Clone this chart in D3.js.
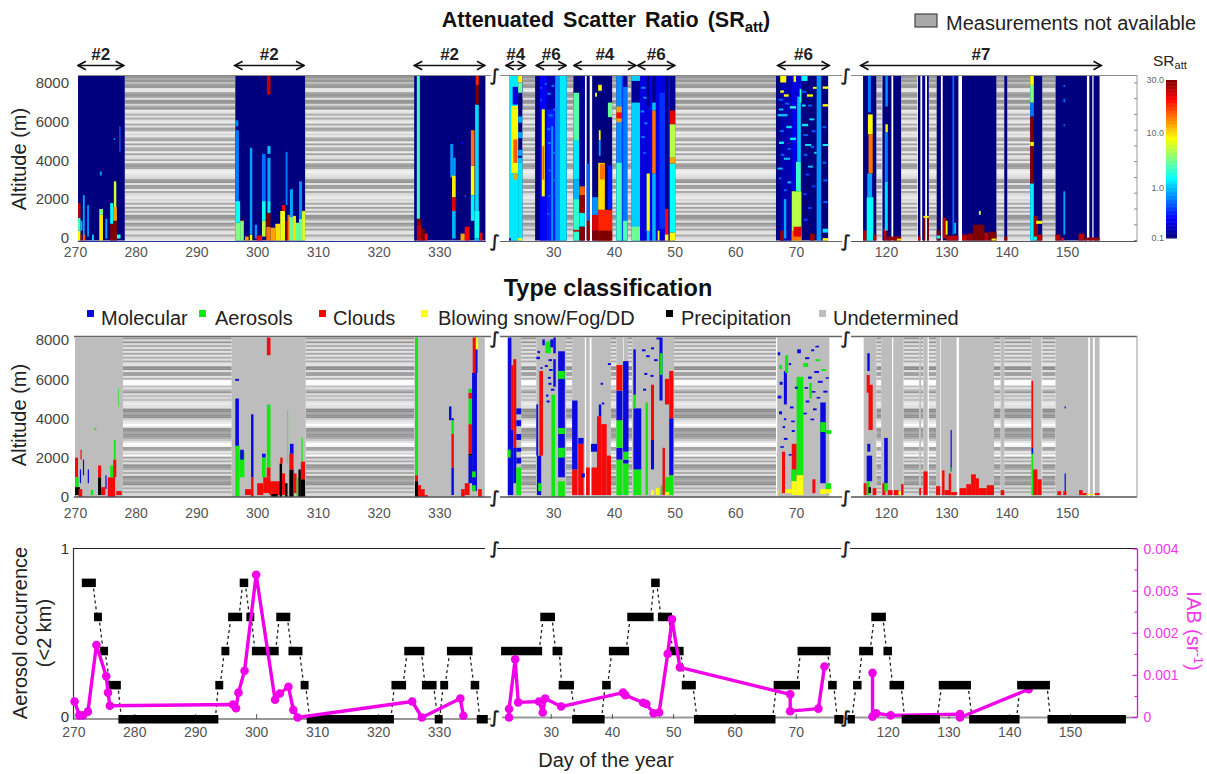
<!DOCTYPE html>
<html>
<head>
<meta charset="utf-8">
<script src="https://cdn.jsdelivr.net/npm/d3@7"></script>
<style>
  body { margin: 0; background: #fff; }
  text { font-family: "Liberation Sans", Arial, sans-serif; }
  .soft { filter: blur(0.3px); }
</style>
</head>
<body>
<div id="chart"></div>
<script>
const [width, height] = [1207, 774];

// ---- data: day ranges are [from, to], altitudes in metres, SR is unitless
const tickDaysA = [270, 280, 290, 300, 310, 320, 330];
const tickDaysB = [30, 40, 50, 60, 70];
const tickDaysC = [120, 130, 140, 150];
const altTicks = [0, 2000, 4000, 6000, 8000];
const srBarTicks = [0.1, 1, 10, 30];
const iabTicks = [0, 0.001, 0.002, 0.003, 0.004];
const iabMinor = [0.0005, 0.0015, 0.0025, 0.0035];

const campaigns = [
  ["a", 270.5, 278, "#2"], ["a", 296.3, 307.7, "#2"], ["a", 325.9, 337.5, "#2"],
  ["b", 22.2, 25.4, "#4"], ["b", 27.2, 32.1, "#6"], ["b", 33.4, 43.6, "#4"], ["b", 43.9, 50, "#6"], ["b", 67, 75.5, "#6"],
  ["c", 115.8, 155.7, "#7"]
];

const typeNames = ["Molecular", "Aerosols", "Clouds", "Blowing snow/Fog/DD", "Precipitation", "Undetermined"];
const typeCodes = ["M", "A", "C", "S", "P", "U"];
const typeColors = ["#0a0ae0", "#10e810", "#f50a0a", "#ffff10", "#000000", "#bdbdbd"];

// gray level of each altitude row of the "not available" hatching, top to bottom
const naRowsSR = [150,170,150,190,160,150,225,235,170,150,160,225,150,150,215,170,150,235,225,175,225,170,225,235,170,225,160,170,235,215,230,170,160,235,160,225,170,165,235,160,225,215,170,235,160,150,165,230,240,230,225,215,160,150,225,160,160,235,170,215,225,235,215,225,170,235,160,225,170,230,150,150,175,225,150,170,215,160,225,225,170,215,225];
const naRowsType = [150,215,150,215,170,225,170,225,170,230,170,225,170,225,225,140,140,225,160,160,225,175,250,255,250,190,225,180,150,215,190,215,190,225,235,225,225,140,140,170,145,145,205,225,235,255,235,150,150,170,150,150,170,200,230,255,245,160,170,230,215,255,160,215,170,225,145,150,170,215,170,225,145,160,175,150,145,215,170,215,170,215,215];

// measured periods and gaps, SR panel
const srMeasuredA = [[270.5,278.2],[296.4,307.9],[325.9,337.6]];
const srGapsA = [[278.2,296.4],[307.9,325.9]];
const srMeasuredB = [[22.7,24.9],[27,32.2],[33.3,35.2],[35.5,36],[36.4,39.7],[40.4,42.2],[42.9,50.1],[66.7,75.3]];
const srGapsB = [[24.9,27],[32.2,33.3],[39.7,40.4],[42.2,42.9],[50.1,66.7]];
const srMeasuredC = [[116.2,118.4],[119.4,120.9],[121.2,122.5],[125.3,125.7],[126,126.5],[126.8,127.1],[128.4,129.1],[129.4,132],[132.6,138.3],[139.6,140.1],[143.9,145.9],[148.1,153.3],[153.7,154.2],[154.4,155.4]];
const srGapsC = [[118.4,119.3],[122.5,125.2],[127.1,128.4],[138.3,139.6],[140.1,143.9],[145.9,148.1]];

// measured periods and gaps, type panel
const typeMeasuredA = [[270,277.9],[295.8,308],[325.9,337.5]];
const typeGapsA = [[277.9,295.8],[308,325.9]];
const typeMeasuredB = [[22.5,24.7],[27.2,32.1],[33.1,35.2],[35.4,36],[36.3,39.5],[40.4,41.5],[41.6,42.3],[43,49.9],[66.9,75.5]];
const typeGapsB = [[24.7,27.2],[32.1,33.1],[39.5,40.4],[42.3,43],[49.9,66.7]];
const typeMeasuredC = [[116.3,118.4],[119.2,121],[121.2,122.9],[125.5,125.8],[126.2,126.9],[128.3,129],[129.1,131.7],[132.1,137.9],[139,139.6],[144.1,145.8],[148.1,153.5],[153.8,154.3],[154.6,155.4]];
const typeGapsC = [[118.4,119.2],[122.9,125.5],[125.8,126.2],[127.1,128.3],[137.9,139],[139.6,144.1],[145.9,148.1]];

// SR cells: day from, day to, alt from, alt to, SR
const srCellsA = [
  [270.5,270.9,0,500,8],[270.5,270.9,500,1150,2.5],[270.5,270.9,1150,1900,25],
  [270.9,271.2,0,300,25],[270.9,271.2,500,1000,1],[271.3,271.6,200,2300,.8],[271.3,271.7,0,300,15],
  [272,272.3,200,1800,.7],[272.8,273.1,0,300,1.2],[274,274.6,0,1300,9],[274,274.6,1300,1600,3.5],[274.1,274.4,3300,3500,.8],
  [275,275.3,100,1100,.8],[275.8,276.3,0,850,30],[275.8,276.3,850,1900,1.5],[276.3,276.9,0,1000,30],[276.3,276.9,1000,1700,12],[276.4,276.8,1700,3000,6],
  [276.9,277.5,100,300,2],[277.3,277.5,4500,5800,.5],[276.4,276.6,5100,5200,.7],

  [296.4,297.2,0,900,3.5],[296.4,297.2,900,2000,1.6],[296.4,297,2000,5600,.6],[296.4,296.9,5800,6100,.7],
  [297.2,297.8,0,1000,3.5],[297.3,297.9,1000,1050,25],[298,298.6,0,200,12],[298.8,299.2,0,300,8],[298.8,299.2,300,4700,.8],
  [299.6,300,100,800,.7],[299.9,300.8,0,250,20],[300.8,301.4,200,1000,5],[300.8,301.4,1000,2000,1.6],[300.8,301.4,2000,4400,.55],
  [301.5,302.2,0,700,14],[301.5,302.2,700,1400,30],[301.7,302.2,1400,2000,1.4],[301.7,302.2,2000,4200,.85],[301.7,302.2,4400,4800,1],[301.6,302.2,7400,8350,24],
  [302.2,303,0,650,12],[303,303.8,0,850,10],[303.8,304.6,0,1500,7],[304.1,304.6,1500,1800,20],[304.6,305,0,1000,30],[304.7,305,1800,4500,.6],
  [305,305.4,0,1300,14],[305.3,305.9,0,1200,3],[305.4,305.9,1200,2600,.8],[305.9,306.4,0,1250,10],[306.4,306.9,0,900,3],[306.9,307.4,0,1100,2.8],[306.9,307.4,1100,3000,.7],[307.4,307.9,0,1500,6],
  [325.9,326.2,0,8350,.1],[326.3,326.8,1100,8350,2.3],[326.3,327,0,800,25],[326.3,327,800,1100,30],[327,327.6,0,600,30],[327.6,328.1,0,350,20],
  [331.8,332.3,3200,4900,.7],[332.1,332.7,100,1500,.9],[332.1,332.7,1500,2200,22],[332.1,332.7,2200,3300,9],[332.3,332.7,3300,4200,.8],
  [333.5,334.2,0,350,12],[334.2,335,0,700,20],[335.2,335.8,2300,3800,8],[335.2,335.8,3800,5600,14],[335.2,335.8,1000,2300,1.4],[335.8,336.6,100,1500,1.6],[335.8,336.6,0,100,1],[335.9,336.5,1500,6900,1.2],[336,336.5,6900,7900,30],[336,336.5,7900,8350,18],[336.6,337.1,0,400,20],[334.2,334.4,2200,2300,.5],[333.7,333.9,4900,5000,.3]
];
const srCellsB = [
  [22.7,24.2,0,8450,1.3],[23.1,24.2,3430,6830,8],[23.4,24.1,3940,5130,15],[23.5,24,3100,3400,12],[23.3,24.2,6900,7800,.2],[22.7,23,0,120,.2],
  [24.2,24.9,7500,8450,.2],[24.2,24.9,8020,8450,8],[24.2,24.9,7500,8020,3],[24.2,24.9,6660,7260,.1],[24.2,24.9,5980,6300,.8],[24.2,24.9,5200,5500,.8],[24.2,24.9,4300,4600,.8],[24.2,24.9,3940,4200,1],[24.2,24.9,0,3940,1.3],[24.2,24.9,0,120,8],
  [27.8,28.9,0,8450,.25],[28.1,28.6,2240,6660,8],[28.2,28.5,3090,4790,15],[28.9,30.3,0,8450,.3],[28.9,30.3,6660,8450,.15],[30.3,31.1,0,8450,.7],[31.1,32.2,0,8450,1.3],[29.7,29.9,0,5800,1.1],
  [29,29.6,7400,7500,.6],[29.7,30.2,7800,7900,.6],[29.2,29.9,6300,6400,.6],[29,29.5,5600,5700,.6],[30,30.3,6600,6700,.6],[29.1,29.6,4900,5000,.6],[30,30.3,4400,4500,.6],[29.2,29.6,3500,3600,.5],[30,30.3,3000,3100,.5],[29.1,29.5,2200,2300,.5],[29,29.4,1300,1400,.5],[27.9,28.1,7700,7800,.6],[27.9,28.1,7100,7200,.6],[28.6,28.9,7900,8000,.6],
  [33.3,34.3,6800,7500,.15],[33.3,34.3,5100,7500,2.6],[33.3,34.3,3100,5100,1.3],[33.3,34.3,2100,3100,.9],[33.3,34.3,0,2100,2],[33.3,34.3,450,540,25],
  [34.3,35.2,2750,8450,.12],[34.3,35.2,2300,2750,15],[34.3,35.2,1400,2300,28],[34.3,35.2,700,1400,1.4],[34.3,35.2,0,700,30],
  [35.5,36,0,1000,28],[35.5,36,1000,3900,.5],[36.4,37.4,0,500,30],[36.4,37.4,500,1300,22],[36.4,37.4,1300,2200,.7],
  [37.4,39.7,0,1560,18],[37.4,39.7,0,500,30],[37.4,38.5,1560,3940,10],[37.7,38.5,3100,3900,14],[37.5,37.8,5100,5600,8],[37.5,37.8,4300,5100,.8],[37.4,38,7600,7900,8],[36.9,37.2,7300,7500,8],[39,39.7,6260,7000,3],[39,39.7,1600,3800,.3],
  [40.4,41.3,0,8450,.7],[40.4,41.3,0,3940,2.2],[40.4,41.3,6000,6800,12],[40.4,41.3,6200,6500,20],[41.3,41.5,0,8450,.4],[41.5,42.2,0,8450,.6],[41.5,42.2,0,1000,2.5],[41.5,42.2,7800,8450,.12],
  [42.9,44.3,0,8450,1.1],[42.9,44.3,0,700,3],[42.9,44.3,7000,8100,.12],[44.3,45.4,0,8450,.2],[45.4,45.9,0,3400,1],[45.4,45.9,3400,6800,.2],[45.9,46.3,0,8450,.25],[45.4,45.9,500,3400,8],
  [44.5,45.2,7700,7800,.7],[44.8,45.4,7200,7300,.7],[44.4,45,6500,6600,.7],[45,45.5,5900,6000,.7],[44.5,45.1,5200,5300,.6],[44.8,45.3,4400,4500,.5],[46.9,47.6,7900,8000,.7],[47.6,48.3,7600,7700,.7],[46.9,47.5,6900,7000,.7],
  [46.3,46.9,3400,6600,14],[46.3,46.9,0,3400,.9],[46.3,46.9,6600,7000,1],[46.9,48.4,0,8450,.2],[47.2,47.5,0,500,8],[47.5,48.4,600,7500,.35],[48.4,49,0,1600,20],[48.4,49,0,300,8],[49,49.2,0,8450,.3],
  [49.2,50.1,6700,8450,.12],[49.2,50.1,5900,6600,22],[49.2,50.1,4200,5900,5],[49.2,50.1,3900,4200,12],[49.2,50.1,400,3900,1.5],[49.2,50.1,0,400,8],
  // day 67-75: a dark block with many short bright dashes
  [67.4,69.3,0,8450,.14],[69.3,70.9,2500,8450,.2],[69.3,70.9,0,2500,5],[69.3,70.9,0,500,14],[70,70.8,2500,4000,2.2],[69.6,70.9,200,700,22],[70.2,70.8,4000,7300,1],
  [67.4,68,0,500,28],[68,68.4,100,2100,.8],[72.3,73.1,0,340,28],[73.4,74.2,0,8450,.7],[74.2,74.4,0,8450,.1],[74.4,75.3,400,600,1.2],[74.4,75.3,0,120,8],
  [67.4,68.4,8020,8450,8],[69.6,70,8050,8450,8],[70.9,71.9,8100,8450,1.5],
  [67.4,68,7500,7620,8],[68,68.8,7300,7420,8],[69,70,6700,6820,2],[70.6,70.9,7000,7700,2],[71.8,72.8,7300,7420,8],[72.8,73.4,7700,7800,8],[74.4,75.3,7700,7820,8],[74.4,75.3,6800,6920,8],
  [67,68.6,6300,6420,1],[67.2,67.9,6600,6700,1],[68.4,69.3,5700,5820,1.2],[69,70,5100,5220,1.4],[67.2,68,4900,5020,1.4],[71,72,5800,5920,1.3],[72.2,73,6100,6200,1.2],[71.5,72.5,4800,4900,1.3],[73,73.4,4400,4500,1.2],[72,72.8,3700,3800,1],[68,69,4100,4200,1.1],[67,67.8,3600,3700,1],[68.6,69.2,2900,3000,1],[74.4,75.3,4800,4900,1.5],[71,71.6,6800,6900,1.3],
  [67.1,67.9,7100,7200,.5],[68.2,68.9,6900,7000,.5],[67.3,68,5500,5600,.5],[68.6,69.2,4600,4700,.5],[67.5,68.1,4300,4400,.5],[67.2,67.6,3100,3200,.5],[68,68.5,2500,2600,.5],[71,71.7,7500,7600,.5],[72,72.6,6800,6900,.5],[71.2,72,5300,5400,.5],[72.6,73.2,5500,5600,.5],[71.3,71.9,4300,4400,.5],[72.4,73,4700,4800,.5],[71.6,72.2,3300,3400,.4],[72.6,73.2,2700,2800,.4],[71.2,71.8,2300,2400,.4],[72,72.6,1600,1700,.4],[71.3,71.9,1000,1100,.4],[74.4,75,5700,5800,.5],[74.4,75,3900,4000,.5],[74.5,75.2,3000,3100,.5],[74.5,75.2,1900,2000,.5]
];
const srCellsC = [
  [116.2,116.8,0,500,25],[116.8,117.9,0,2200,1.5],[116.9,117.7,2200,3400,.8],[117.1,117.8,3400,5400,14],[117,117.8,5400,6400,8],[117,117.5,6500,8350,.6],[117.9,118.4,0,300,25],
  [119.6,120.1,0,600,25],[119.8,120.3,500,3000,1.2],[119.8,120.3,3000,5500,.6],[119.9,120.3,5500,5900,8],[119.9,120.3,6800,8350,.7],[120.2,122.5,0,200,28],[121.8,122.5,0,90,9],
  [125.3,125.7,0,200,25],[126.2,126.5,0,1150,30],[126.8,127.1,0,1150,30],[126.2,127.1,1150,1250,8],
  [128.4,129,0,500,30],[128.4,129,100,250,1.5],[129.4,130,100,1150,25],[129.9,130.2,300,1000,8],[130,132,0,250,25],[131,131.3,300,8350,.5],[131.3,131.6,350,900,1],
  [132.6,133.5,0,300,25],[133.5,134.4,0,350,28],[134.4,136.3,0,800,30],[135.4,135.7,1300,1500,6],[136.3,137,0,400,25],[137,138.3,0,450,30],[137.5,138.3,0,100,9],
  [139.6,140.1,0,200,28],
  [143.9,144.5,0,2900,1.4],[143.9,144.5,2900,6300,30],[143.9,144.5,4800,5000,8],[143.9,144.5,6300,7000,.6],[143.9,144.5,7000,7900,3.5],[143.9,144.5,7900,8350,8],
  [144.5,145.2,0,1250,28],[145.2,145.9,0,300,25],[144.9,145.9,850,1000,8],[144.5,145,0,200,1.5],
  [148.1,148.9,0,300,25],[149,149.5,0,150,22],[149.4,149.7,300,2500,.8],[149.4,149.7,5800,5900,.5],[149.4,149.7,7000,7200,.5],[149.4,149.7,7800,7900,.5],
  [151.9,152.9,0,350,25],[153,155.4,0,150,28]
];

// type cells: day from, day to, alt from, alt to, class code
const typeCellsA = [
  [270,270.5,1000,2000,"C"],[270,270.6,500,1000,"A"],[270,270.8,100,500,"P"],[270.6,271.2,0,400,"C"],[270.8,271,700,1400,"M"],[270.9,271.1,1900,2400,"C"],
  [271.3,271.5,1100,1900,"M"],[272.1,272.3,700,1400,"M"],[272.6,273,100,350,"A"],[273.2,273.5,3400,3500,"A"],
  [273.8,274.3,100,1000,"P"],[273.8,274.3,1000,1600,"C"],[274.3,275,100,500,"C"],[275,275.2,400,1100,"M"],
  [275.4,276.6,0,1000,"C"],[275.8,276.3,1000,1600,"A"],[276.3,276.8,1000,1900,"C"],[276.4,276.7,1900,2900,"A"],[276.8,277.7,100,300,"C"],[277.1,277.2,4600,5500,"A"],
  [296.4,297.1,0,2600,"A"],[296.4,297,2600,5000,"M"],[296.4,297,5900,6000,"M"],[297.1,297.9,1000,2300,"A"],[297.2,297.8,1900,2400,"M"],
  [298,299,100,400,"C"],[299,299.4,0,1000,"C"],[299,299.4,1000,4200,"M"],[300,301,100,700,"C"],[300.8,301.4,2000,2200,"M"],[300.8,301.4,1000,2000,"A"],[301,302.2,200,1000,"C"],[301.6,302.2,1500,4700,"A"],[301.6,302.2,1000,1500,"C"],[301.6,302.2,7200,8100,"C"],
  [302,304,100,800,"C"],[302.3,303.4,0,150,"P"],[303.7,304.1,0,1700,"P"],[303.8,304.2,1700,2000,"C"],[304.1,304.6,100,1200,"C"],[304.6,305,0,700,"P"],[305,305.1,1700,4400,"A"],
  [305.3,306,0,1400,"P"],[305.3,306,1400,2200,"C"],[305.4,306,2200,2700,"M"],[306,306.5,200,1200,"C"],[306.5,306.8,0,1000,"A"],[306.8,307.2,0,1400,"P"],[307.2,307.9,0,900,"P"],[307.2,307.9,900,1800,"C"],[307.3,307.5,1800,3000,"A"],
  [326,326.5,1100,8100,"A"],[326,326.5,800,1100,"C"],[326,326.5,0,800,"P"],[326.5,327,0,600,"C"],[327,327.6,0,400,"C"],[327.6,328.1,0,100,"C"],
  [331.6,332,3900,4600,"M"],[332,332.4,100,1500,"M"],[332,332.4,1500,3200,"C"],[332,332.4,3200,3900,"A"],[332,332.4,3900,4000,"M"],
  [333.6,334.2,0,400,"C"],[334.2,335,100,700,"C"],[334.8,335.4,700,2100,"M"],[334.8,335.4,2100,2200,"P"],[334.8,335.4,2200,3700,"C"],[334.8,335.4,3700,5000,"A"],[334.8,335.4,5000,5300,"C"],[334.8,335.4,5300,5500,"A"],
  [335.4,336.2,300,6300,"M"],[335.4,336,1000,1300,"A"],[335.4,336,300,600,"A"],[335.5,336.2,6300,8100,"C"],[336,336.3,6300,7500,"M"],[336,336.4,7500,8100,"S"],[336.4,337,0,400,"C"]
];
const typeCellsB = [
  [22.5,23.1,100,8100,"M"],[22.5,23,2000,2400,"A"],[23,23.4,100,3400,"M"],[23,23.4,3400,6700,"C"],[23.4,23.9,2500,7000,"C"],[23.4,23.9,700,2500,"M"],[23.9,24.7,100,1500,"A"],[23.9,24.7,1700,2000,"M"],[23.9,24.7,2300,2500,"M"],[23.9,24.7,2900,3200,"M"],[23.9,24.7,3600,3900,"M"],[23.9,24.7,4200,4500,"M"],
  [27.3,28,100,2100,"M"],[27.5,28,300,700,"A"],[27.7,28.3,2100,6400,"C"],[27.2,27.5,2100,4700,"M"],[27.2,27.8,7000,7120,"M"],[27.4,27.8,7300,7420,"M"],[27.9,28.2,6500,6600,"M"],[28.2,28.6,7700,8000,"M"],[28.7,29.6,7300,7900,"A"],[29.5,30,7600,8000,"M"],[30,30.4,7300,8100,"M"],
  [29.7,30.3,0,5200,"A"],[29.1,29.6,6000,6100,"M"],[29.2,29.8,6900,7000,"M"],[29.6,30.2,5400,5500,"M"],[28.8,29.2,5100,5200,"M"],[30,30.4,5600,7000,"M"],[29.3,29.9,6400,6500,"M"],[28.6,29.1,6600,6700,"M"],[29.2,29.7,5700,5800,"M"],[28.9,29.4,4800,4900,"M"],
  [30.8,31.9,1000,7400,"M"],[30.8,31.9,0,800,"A"],[30.8,31.9,2000,2500,"A"],[30.8,31.9,6000,6400,"A"],[30.8,31.9,3200,3500,"A"],
  [33.1,34,100,1400,"C"],[33.1,34,1400,4900,"M"],[34.1,35,100,2700,"C"],[34.1,35,2700,3000,"M"],[34.6,35.2,1000,1200,"M"],
  [35.4,36,100,1500,"C"],[36.3,37.2,100,1500,"C"],[36.2,37.6,2300,2700,"M"],[37.2,37.9,100,4100,"C"],[37.9,38.8,100,3700,"C"],[38.8,39.5,100,2100,"C"],[38,38.4,4700,4800,"M"],[37.5,37.9,4100,4700,"M"],[39,39.5,6700,6800,"M"],[37.8,38.2,5700,5800,"M"],
  [40.4,41.4,100,1900,"A"],[40.4,41.4,1900,2500,"M"],[40.4,41.4,2500,3900,"A"],[40.4,41.4,3900,5400,"M"],[40.4,41.4,5400,6700,"C"],
  [41.5,42.4,100,1700,"A"],[41.5,42.4,1700,1900,"M"],[41.5,42.4,1900,2300,"A"],[41.5,42.4,2300,6900,"M"],
  [43.2,44.5,100,1400,"A"],[43.2,44.5,1400,4500,"M"],[43.2,43.6,4500,5200,"A"],[43.2,43.6,5200,7500,"M"],
  [45.2,45.6,100,4800,"A"],[46.1,46.6,1400,2900,"M"],[46.1,46.6,2900,5700,"C"],[46.1,46.6,100,350,"S"],[46.9,47.5,100,450,"S"],[47,47.6,8000,8100,"M"],[47.5,48,4900,8100,"M"],[47.6,48,6200,7300,"A"],[47.7,48,100,600,"A"],
  [44.6,45.2,7400,7500,"M"],[45.3,45.9,7100,7200,"M"],[46.1,46.6,7500,7600,"M"],[46.6,47.2,6900,7000,"M"],[45,45.5,6200,6300,"M"],[46,46.5,6100,6200,"M"],[44.8,45.3,5400,5500,"M"],
  [48,48.4,100,2500,"C"],[48.4,49.1,4700,6000,"C"],[48.4,49.2,100,1000,"A"],[48.4,49.2,100,250,"S"],[49.1,49.8,4000,6400,"C"],[49.1,49.8,1100,4000,"M"],[49.1,49.8,100,1100,"A"],
  [66.9,67.1,100,350,"S"],[67.7,68.2,200,2300,"C"],[68.2,69.3,200,400,"S"],[69.3,70.1,800,2700,"C"],[69.3,70.1,800,1400,"A"],[69.3,70.1,100,800,"S"],[70.1,71.2,1100,6100,"A"],[70.1,71.2,100,1100,"S"],
  [72.7,73.2,200,900,"C"],[74,74.9,700,4800,"M"],[74,74.9,3300,3800,"A"],[74,74.9,150,400,"S"],[74.9,75.8,400,700,"A"],[74.9,75.8,200,400,"S"],[74.9,75.8,3200,3400,"A"],
  [67,67.4,7200,7350,"M"],[67.2,67.7,6500,6700,"A"],[67.3,67.8,5700,5850,"M"],[67,67.6,5000,5150,"M"],[68,68.5,4700,6400,"M"],[68.2,68.7,6300,7200,"A"],[68.8,69.2,6700,6800,"M"],[67.2,67.7,4200,4350,"M"],[68,68.4,3900,4000,"M"],
  [69.3,69.8,3300,3400,"M"],[69.8,70.3,5500,5600,"M"],[71.2,72,6600,6800,"A"],[71.5,72.2,7000,7100,"M"],[72,72.6,6000,6120,"M"],[72.2,72.6,5000,5800,"A"],[73,73.8,6300,6400,"M"],[73.2,74,6900,7000,"A"],[73.6,74.4,5800,5900,"M"],[74.2,75,6400,6500,"A"],
  [72.5,73,7400,7500,"M"],[74.5,75.2,5300,5400,"M"],[71.6,72.2,4800,4900,"M"],[69,69.6,4500,4600,"M"],[72.8,73.4,4400,4500,"M"],[68,68.6,2900,3000,"M"],[67.8,68.2,3500,3600,"M"],[70.2,70.8,7300,7500,"M"],
  [71.4,72,5500,5580,"M"],[72.6,73.2,5300,5380,"M"],[73.4,74,5000,5080,"M"],[71.2,71.8,4200,4280,"M"],[72.4,73,3900,3980,"M"],[69.2,69.8,3800,3880,"M"],[67.4,68,2500,2580,"M"],[68.8,69.3,2100,2180,"M"],[74.9,75.4,6000,6080,"M"],[73.2,73.8,7600,7680,"M"]
];
const typeCellsC = [
  [116.3,116.8,100,700,"C"],[116.8,117.3,5300,6200,"C"],[117.1,117.8,3400,5700,"C"],[116.8,117.7,800,2100,"M"],[116.8,117.3,100,800,"A"],[116.9,117.4,2300,2700,"M"],[116.9,117.3,6400,7300,"M"],[117.1,117.5,200,500,"P"],[117.8,118.4,100,450,"C"],
  [119.4,119.9,100,700,"C"],[119.7,120.3,700,3000,"M"],[119.7,120.3,300,700,"A"],[120.3,121.1,100,350,"C"],[121.3,122.1,100,350,"C"],[122.1,122.5,100,300,"S"],[122.5,122.9,100,650,"C"],
  [125.5,125.8,100,450,"C"],[126.2,126.9,100,1300,"C"],[128.3,129,100,550,"C"],[129.3,129.7,100,1350,"C"],[129.7,130.6,100,350,"C"],[130.4,130.8,100,1200,"C"],[130.8,131.8,100,250,"C"],[130.7,130.9,1300,3400,"M"],[130.7,130.9,1250,1500,"A"],
  [132.2,133.3,100,450,"C"],[133.3,134.1,100,650,"C"],[134.1,134.9,100,1150,"C"],[134.9,135.4,100,950,"C"],[135.4,136.7,100,450,"C"],[136.7,137.9,100,600,"C"],[139,139.6,100,350,"C"],
  [144.1,144.4,100,2200,"A"],[144.1,144.4,2200,2500,"M"],[144.1,144.4,2500,5900,"C"],[144.4,145.1,100,1400,"C"],[145.1,145.8,100,900,"C"],
  [148.4,149,100,300,"C"],[149.4,149.9,100,300,"C"],[149.6,149.8,300,1200,"M"],[149.6,149.8,4500,4600,"M"],[152,152.6,100,350,"C"],[152.6,153.3,100,200,"C"],[153.2,154.9,100,150,"S"],[154.6,155.4,100,200,"C"]
];

// occurrence bars: day from, day to, occurrence
const occBarsA = [[271.4,273.7,.8],[273.4,274.7,.6],[274.4,275.7,.4],[275.5,277.8,.2],[277.4,293.8,0],[293.3,294.6,.2],[294.3,295.6,.4],[295.4,297.7,.6],[297.3,298.7,.8],[298.4,299.7,.6],[299.3,303.7,.4],[303.3,305.6,.6],[305.3,307.6,.4],[307.3,308.6,.2],[308.3,322.6,0],[322.2,324.6,.2],[324.3,327.6,.4],[327.2,329.6,.2],[329.3,330.6,0],[330.2,331.5,.2],[331.3,335.5,.4],[335.2,336.6,.2],[336.2,338,0]];
const occBarsB = [[21.9,28.6,.4],[28.3,30.7,.6],[30.3,31.9,.4],[31.3,33.8,.2],[33.5,38.8,0],[38.4,39.8,.2],[39.5,42.8,.4],[42.5,46.8,.6],[46.4,47.8,.8],[47.5,49.8,.6],[49.4,51.7,.4],[51.4,53.7,.2],[53.4,66.7,0],[66.4,70.7,.2],[70.3,75.7,.4],[75.3,76.7,.2],[76.3,77.8,0]];
const occBarsC = [[112.1,112.6,0],[113.4,114.6,0],[114.3,115.7,.2],[115.3,117.6,.4],[117.3,119.7,.6],[119.3,120.7,.4],[120.3,122.7,.2],[122.3,128.6,0],[128.4,133.7,.2],[133.4,141.7,0],[141.3,146.7,.2],[146.3,159.2,0]];

// integrated attenuated backscatter: [day, IAB]
const iabA = [[270.2,.00038],[271,.00005],[271.6,.00005],[272.4,.00014],[273.8,.00172],[275.4,.00098],[275.7,.00059],[276,.00028],[296.2,.00031],[296.7,.00022],[297.1,.00059],[298.1,.00111],[300,.00339],[303.1,.00042],[303.9,.00057],[305.3,.00073],[306.1,.00018],[306.8,0],[325.6,.00038],[327.2,0],[333.5,.00045],[334,.00004]];
const iabB = [[23.2,0],[23.2,.0002],[24.2,.00138],[24.7,.00036],[28.1,.00038],[28.7,.00012],[29.1,.00045],[31.7,.00026],[41.8,.00059],[42.2,.00053],[45.1,.00035],[45.6,.00032],[46.8,.0001],[47.7,.00012],[49.1,.00151],[49.8,.00233],[51.1,.00119],[69.1,.00055],[69.1,.00015],[73.7,.00021],[74.7,.00121]];
const iabC = [[117.5,.00106],[117.5,.00002],[118.1,.0001],[120.5,.00005],[131.9,.00008],[131.9,0],[143.2,.00067]];

// ---- scales
const xTop = {
  a: d3.scaleLinear().domain([270, 340]).range([75, 500]),
  b: d3.scaleLinear().domain([30, 70]).range([553.3, 796]),
  c: d3.scaleLinear().domain([120, 150]).range([886, 1067])
};
const xOcc = {
  a: d3.scaleLinear().domain([270, 330]).range([73.3, 439]),
  b: d3.scaleLinear().domain([30, 70]).range([550.7, 795.7]),
  c: d3.scaleLinear().domain([120, 150]).range([887.7, 1070])
};
const ySR = d3.scaleLinear().domain([0, 8350]).range([240.5, 76]).clamp(true);
const yType = d3.scaleLinear().domain([0, 8100]).range([497, 337.5]).clamp(true);
const yOcc = d3.scaleLinear().domain([0, 1]).range([719, 548.5]);
const yIAB = d3.scaleLinear().domain([0, 0.004]).range([717.5, 549]);

// SR colour: jet over a stretched log axis, like the colour bar
const srPos = d3.scaleLog().domain([0.1, 1, 10, 30]).range([0, 0.315, 0.66, 1]);
const jet = d3.scaleLinear()
  .domain([0, 0.125, 0.375, 0.625, 0.875, 1])
  .range(["#00007f", "#0000ff", "#00ffff", "#ffff00", "#ff0000", "#7f0000"]);
const srColor = v => jet(srPos(v));
const typeColor = d3.scaleOrdinal().domain(typeCodes).range(typeColors);

const svg = d3.select("#chart").append("svg")
  .attr("width", width).attr("height", height);

// hatching for the periods without measurements
function drawGaps(g, x, y, top, gaps, rows) {
  const band = d3.scaleBand().domain(d3.range(rows.length)).range([y(top), y(0)]);
  gaps.forEach(gap => {
    g.append("g").selectAll("rect").data(rows).enter().append("rect")
      .attr("x", x(gap[0]))
      .attr("width", x(gap[1]) - x(gap[0]))
      .attr("y", (d, i) => band(i))
      .attr("height", band.bandwidth() + 0.3)
      .attr("fill", d => d3.rgb(d, d, d));
  });
}

function drawCells(g, x, y, cells, color) {
  g.append("g").selectAll("rect").data(cells).enter().append("rect")
    .attr("x", d => x(d[0]))
    .attr("width", d => x(d[1]) - x(d[0]))
    .attr("y", d => y(d[3]))
    .attr("height", d => y(d[2]) - y(d[3]))
    .attr("fill", d => color(d[4]));
}

function drawBlocks(g, x, y, top, blocks, fill) {
  g.append("g").selectAll("rect").data(blocks).enter().append("rect")
    .attr("x", d => x(d[0]))
    .attr("width", d => x(d[1]) - x(d[0]))
    .attr("y", y(top))
    .attr("height", y(0) - y(top))
    .attr("fill", fill);
}

function dayAxis(g, scale, ticks, bottom, pad, tickLen) {
  const axis = g.append("g").attr("transform", `translate(0,${bottom})`)
    .call(d3.axisBottom(scale).tickValues(ticks).tickFormat(d3.format("d")).tickSizeInner(tickLen).tickSizeOuter(0).tickPadding(pad));
  axis.select(".domain").remove();
  axis.selectAll("text").attr("font-size", 14).attr("fill", "#555");
  axis.selectAll("line").attr("stroke", "#555").attr("stroke-width", 1);
}

function altAxis(g, y) {
  const axis = g.append("g").attr("transform", "translate(71,0)")
    .call(d3.axisLeft(y).tickValues(altTicks).tickFormat(d3.format("d")).tickSize(0).tickPadding(2));
  axis.select(".domain").remove();
  axis.selectAll("text").attr("font-size", 15).attr("fill", "#444");
}

function breakMark(x, y) {
  svg.append("text").attr("x", x).attr("y", y + 6).attr("text-anchor", "middle")
    .attr("font-size", 17).attr("font-weight", "bold").attr("fill", "#222")
    .style("font-family", "'DejaVu Sans'").text("∫");
}

function rotatedLabel(x, y, angle, text, fill) {
  return svg.append("text").attr("transform", `translate(${x},${y}) rotate(${angle})`)
    .attr("text-anchor", "middle").attr("font-size", 20).attr("fill", fill || "#222").text(text);
}

// ---- panel 1, attenuated scatter ratio
const srPanel = svg.append("g").attr("class", "soft");
[["a", srGapsA, srMeasuredA, srCellsA], ["b", srGapsB, srMeasuredB, srCellsB], ["c", srGapsC, srMeasuredC, srCellsC]].forEach(leg => {
  const x = xTop[leg[0]];
  drawGaps(srPanel, x, ySR, 8350, leg[1], naRowsSR);
  drawBlocks(srPanel, x, ySR, 8350, leg[2], srColor(0.1));
  drawCells(srPanel, x, ySR, leg[3], srColor);
});

// frame lines, gray on top and dark at the base
const srFrame = svg.append("g").attr("fill", "none");
[[78, 491, "#8a8a8a"], [500, 842, "#8a8a8a"], [851, 1137, "#8a8a8a"]].forEach(s => {
  srFrame.append("line").attr("x1", s[0]).attr("x2", s[1]).attr("y1", 75.5).attr("y2", 75.5).attr("stroke", s[2]).attr("stroke-width", 1.2);
});
[[78, 486, "#2a3a9a"], [500, 842, "#666"], [851, 1137, "#555"]].forEach(s => {
  srFrame.append("line").attr("x1", s[0]).attr("x2", s[1]).attr("y1", 241.5).attr("y2", 241.5).attr("stroke", s[2]).attr("stroke-width", 1.2);
});
srFrame.append("line").attr("x1", 1137).attr("x2", 1137).attr("y1", 75).attr("y2", 242).attr("stroke", "#9a9a9a");
svg.append("g").selectAll("line").data(d3.range(0, 8350, 800)).enter().append("line")
  .attr("x1", 1134).attr("x2", 1137)
  .attr("y1", d => ySR(d)).attr("y2", d => ySR(d)).attr("stroke", "#888");

// campaign arrows
const defs = svg.append("defs");
defs.append("marker").attr("id", "head").attr("viewBox", "0 0 8 8").attr("refX", 7).attr("refY", 4)
  .attr("markerWidth", 7).attr("markerHeight", 7).attr("orient", "auto-start-reverse")
  .append("path").attr("d", "M1,0.8 L7,4 L1,7.2").attr("fill", "none").attr("stroke", "#111").attr("stroke-width", 1.3);
const campG = svg.append("g");
campG.selectAll("line").data(campaigns).enter().append("line")
  .attr("x1", d => xTop[d[0]](d[1])).attr("x2", d => xTop[d[0]](d[2]))
  .attr("y1", 65.5).attr("y2", 65.5)
  .attr("stroke", "#111").attr("stroke-width", 1.5)
  .attr("marker-start", "url(#head)").attr("marker-end", "url(#head)");
campG.selectAll("text").data(campaigns).enter().append("text")
  .attr("x", d => (xTop[d[0]](d[1]) + xTop[d[0]](d[2])) / 2)
  .attr("y", 60).attr("text-anchor", "middle")
  .attr("font-size", 17).attr("font-weight", "bold").attr("fill", "#222").text(d => d[3]);

dayAxis(svg.append("g"), xTop.a, tickDaysA, 241.5, 6, 0);
dayAxis(svg.append("g"), xTop.b, tickDaysB, 241.5, 6, 0);
dayAxis(svg.append("g"), xTop.c, tickDaysC, 241.5, 6, 0);
altAxis(svg.append("g"), d3.scaleLinear().domain([0, 8000]).range([237.5, 83]));
rotatedLabel(26, 159, -90, "Altitude (m)");

// titles
const title = svg.append("text").attr("x", 606).attr("y", 27).attr("text-anchor", "middle")
  .attr("font-size", 21.5).attr("font-weight", "bold").attr("fill", "#111").attr("word-spacing", 3)
  .text("Attenuated Scatter Ratio (SR");
title.append("tspan").attr("font-size", 15).attr("dy", 5).text("att");
title.append("tspan").attr("dy", -5).text(")");

svg.append("rect").attr("x", 915).attr("y", 14).attr("width", 22).attr("height", 13)
  .attr("fill", "#a9a9a9").attr("stroke", "#444").attr("stroke-width", 1.2);
svg.append("text").attr("x", 946).attr("y", 30).attr("font-size", 20).attr("fill", "#222").text("Measurements not available");

// colour bar, stops follow the same stretched axis as the cells
const barY = d3.scaleLinear().domain([0, 0.315, 0.66, 1]).range([238, 188, 133, 80]);
svg.append("g").attr("class", "soft").selectAll("rect").data(d3.range(0, 1, 0.005)).enter().append("rect")
  .attr("x", 1166).attr("width", 11)
  .attr("y", d => barY(d + 0.005)).attr("height", d => barY(d) - barY(d + 0.005) + 0.5)
  .attr("fill", d => jet(d));
svg.append("g").selectAll("text").data(srBarTicks).enter().append("text")
  .attr("x", 1164).attr("y", d => barY(srPos(d)) + 3)
  .attr("text-anchor", "end").attr("font-size", 9).attr("fill", "#666").text(d => d3.format(".1f")(d));
const srLabel = svg.append("text").attr("x", 1153).attr("y", 66).attr("font-size", 15.5).attr("fill", "#222").text("SR");
srLabel.append("tspan").attr("font-size", 11).attr("dy", 3).text("att");

// ---- panel 2, type classification
svg.append("text").attr("x", 608).attr("y", 296).attr("text-anchor", "middle")
  .attr("font-size", 23.5).attr("font-weight", "bold").attr("fill", "#111").text("Type classification");

const legendPos = [[87, 101], [199, 215], [319, 333], [421, 438], [666, 681], [819, 833]];
const legendG = svg.append("g");
legendG.selectAll("rect").data(typeNames).enter().append("rect")
  .attr("x", (d, i) => legendPos[i][0]).attr("y", 310).attr("width", 7).attr("height", 7)
  .attr("fill", (d, i) => typeColors[i]);
legendG.selectAll("text").data(typeNames).enter().append("text")
  .attr("x", (d, i) => legendPos[i][1]).attr("y", 325)
  .attr("font-size", 20).attr("fill", "#222").text(d => d);

const typePanel = svg.append("g").attr("class", "soft");
[["a", typeGapsA, typeMeasuredA, typeCellsA], ["b", typeGapsB, typeMeasuredB, typeCellsB], ["c", typeGapsC, typeMeasuredC, typeCellsC]].forEach(leg => {
  const x = xTop[leg[0]];
  drawGaps(typePanel, x, yType, 8100, leg[1], naRowsType);
  drawBlocks(typePanel, x, yType, 8100, leg[2], typeColor("U"));
  drawCells(typePanel, x, yType, leg[3], typeColor);
});
[[74, 491], [500, 842], [851, 1137]].forEach(s => {
  svg.append("line").attr("x1", s[0]).attr("x2", s[1]).attr("y1", 336.5).attr("y2", 336.5).attr("stroke", "#666").attr("stroke-width", 1.6);
  svg.append("line").attr("x1", s[0]).attr("x2", s[1]).attr("y1", 497).attr("y2", 497).attr("stroke", "#555").attr("stroke-width", 1.6);
});
svg.append("line").attr("x1", 1137).attr("x2", 1137).attr("y1", 336).attr("y2", 497).attr("stroke", "#999");
dayAxis(svg.append("g"), xTop.a, tickDaysA, 497, 11, 0);
dayAxis(svg.append("g"), xTop.b, tickDaysB, 497, 11, 0);
dayAxis(svg.append("g"), xTop.c, tickDaysC, 497, 11, 0);
altAxis(svg.append("g"), d3.scaleLinear().domain([0, 8000]).range([497, 340]));
rotatedLabel(26, 415, -90, "Altitude (m)");

// ---- panel 3, aerosol occurrence and IAB
[[73, 485], [497, 841], [850, 1137]].forEach(s => {
  svg.append("line").attr("x1", s[0]).attr("x2", s[1]).attr("y1", 548.5).attr("y2", 548.5).attr("stroke", "#222").attr("stroke-width", 1.2);
});
svg.append("line").attr("x1", 73.5).attr("x2", 73.5).attr("y1", 548).attr("y2", 719).attr("stroke", "#333").attr("stroke-width", 1.2);
svg.append("line").attr("x1", 73).attr("x2", 491).attr("y1", 719).attr("y2", 719).attr("stroke", "#333");
svg.append("line").attr("x1", 502).attr("x2", 1137).attr("y1", 717.5).attr("y2", 717.5).attr("stroke", "#999").attr("stroke-width", 2.2);

[0, 1].forEach(v => {
  svg.append("text").attr("x", 69).attr("y", yOcc(v) + (v ? 5 : 3)).attr("text-anchor", "end")
    .attr("font-size", 15).attr("fill", "#333").text(v);
});

const dashLine = d3.line().x(d => d[0]).y(d => d[1]);
const pinkLine = d3.line();
["a", "b", "c"].forEach(k => {
  const x = xOcc[k];
  const bars = { a: occBarsA, b: occBarsB, c: occBarsC }[k];
  const iab = { a: iabA, b: iabB, c: iabC }[k];
  dayAxis(svg.append("g"), x, { a: tickDaysA, b: tickDaysB, c: tickDaysC }[k], 719, 8, -5);

  const g = svg.append("g");
  // dashes go from the end of one bar to the start of the next
  g.selectAll("path.dash").data(d3.pairs(bars)).enter().append("path")
    .attr("class", "dash")
    .attr("d", d => dashLine([[x(d[0][1] - 0.5), yOcc(d[0][2])], [x(d[1][0] + 0.5), yOcc(d[1][2])]]))
    .attr("fill", "none").attr("stroke", "#222").attr("stroke-width", 1.3).attr("stroke-dasharray", "3,3");

  const drawBars = () => g.append("g").selectAll("rect").data(bars).enter().append("rect")
    .attr("x", d => x(d[0])).attr("width", d => x(d[1]) - x(d[0]))
    .attr("y", d => yOcc(d[2]) - 4).attr("height", 8.5).attr("fill", "#000");
  const drawIab = () => {
    g.append("path").attr("d", pinkLine(iab.map(d => [x(d[0]), yIAB(d[1])])))
      .attr("fill", "none").attr("stroke", "#f000e8").attr("stroke-width", 3.4).attr("stroke-linejoin", "round");
    g.append("g").selectAll("circle").data(iab).enter().append("circle")
      .attr("cx", d => x(d[0])).attr("cy", d => yIAB(d[1])).attr("r", 4.3).attr("fill", "#f000e8");
  };
  // last leg: the curve runs in under the bar
  if (k === "c") { drawIab(); drawBars(); } else { drawBars(); drawIab(); }
});

// right axis in magenta
svg.append("line").attr("x1", 1137.5).attr("x2", 1137.5).attr("y1", 549).attr("y2", 717.5).attr("stroke", "#f000e8").attr("stroke-width", 1.3);
const iabAxis = svg.append("g").attr("transform", "translate(1137.5,0)")
  .call(d3.axisRight(yIAB).tickValues(iabTicks).tickFormat(d => d === 0 ? "0" : d3.format(".3f")(d)).tickSize(0).tickPadding(6));
iabAxis.select(".domain").remove();
iabAxis.selectAll("text").attr("font-size", 14).attr("fill", "#f038ea");
svg.append("g").selectAll("line").data(iabTicks.concat(iabMinor)).enter().append("line")
  .attr("x1", d => 1137.5 - (iabMinor.includes(d) ? 3 : 5)).attr("x2", 1137.5)
  .attr("y1", d => yIAB(d)).attr("y2", d => yIAB(d)).attr("stroke", "#f000e8");

rotatedLabel(27, 633, -90, "Aerosol occurrence");
rotatedLabel(51, 633, -90, "(<2 km)");
svg.append("text").attr("x", 606).attr("y", 767).attr("text-anchor", "middle")
  .attr("font-size", 20).attr("fill", "#222").text("Day of the year");
const iabTitle = rotatedLabel(1187, 631, 90, "IAB (sr", "#f038ea");
iabTitle.append("tspan").attr("font-size", 13).attr("dy", -7).text("-1");
iabTitle.append("tspan").attr("dy", 7).text(")");

// axis break marks
[[75, 241], [338, 497], [548, 717]].forEach(p => {
  breakMark(495, p[0]); breakMark(495, p[1]);
  breakMark(846, p[0]); breakMark(846, p[1]);
});
</script>
</body>
</html>
